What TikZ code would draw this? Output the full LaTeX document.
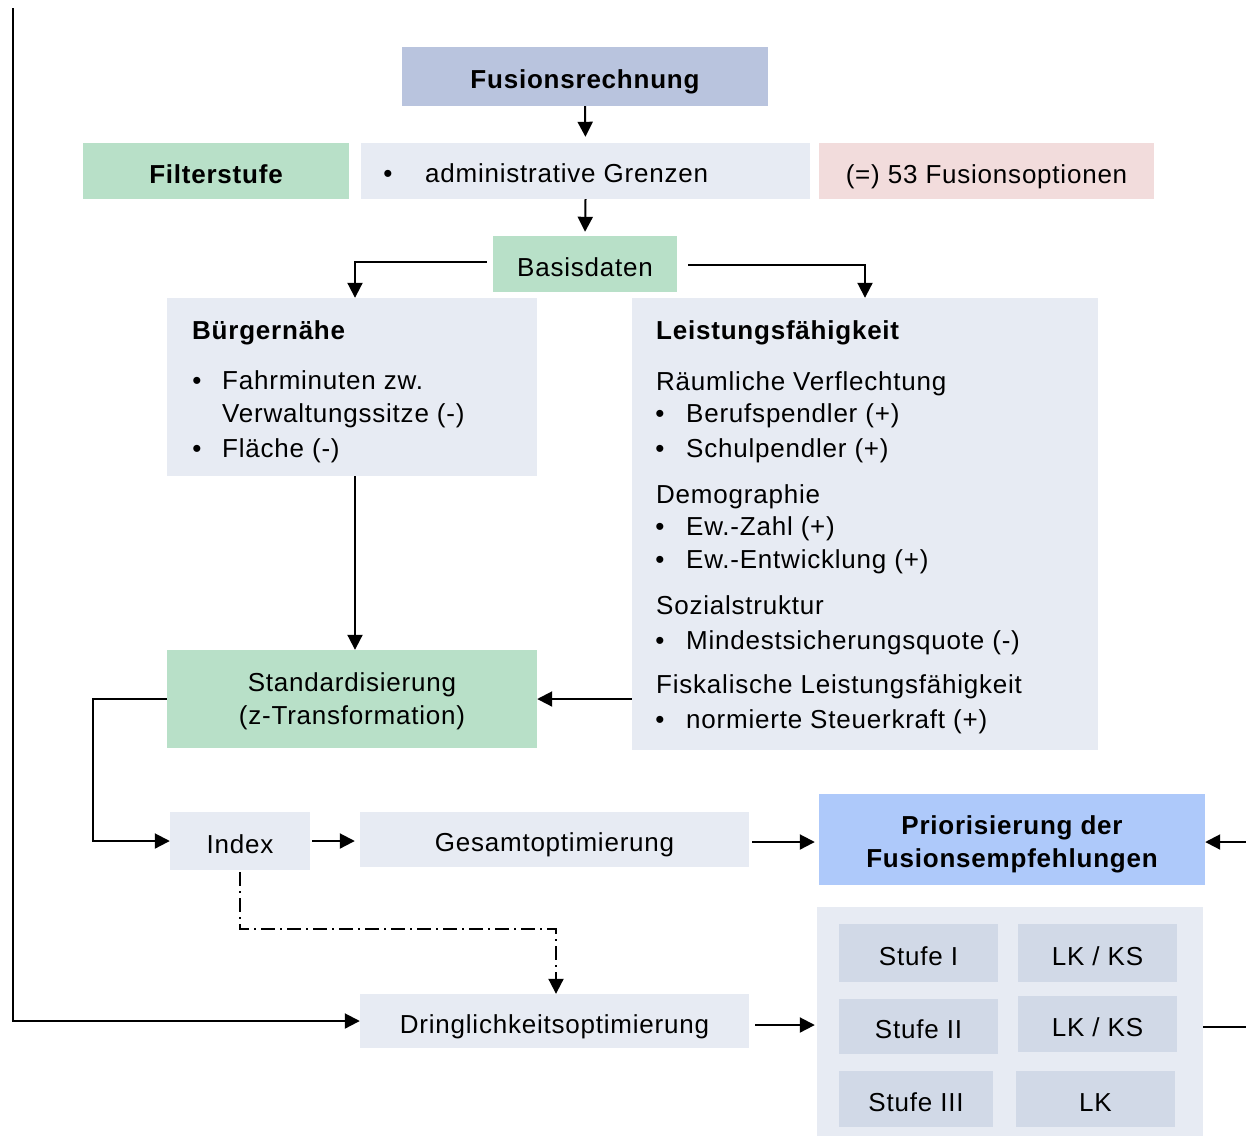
\documentclass[tikz,border=0pt]{standalone}
\usepackage{fontspec}
\setmainfont[LetterSpace=3]{Liberation Sans}
\usetikzlibrary{arrows.meta}
\definecolor{cTop}{HTML}{B9C4DE}
\definecolor{cGreen}{HTML}{B8E0C8}
\definecolor{cLight}{HTML}{E7EBF3}
\definecolor{cPink}{HTML}{F2DCDC}
\definecolor{cPrio}{HTML}{AEC9FA}
\definecolor{cInner}{HTML}{D1D9E7}
\newcommand{\twolines}[3]{\raisebox{#1}[\height][\depth]{\begin{tabular}{@{}c@{}}#2\\#3\end{tabular}}}
\begin{document}
\begin{tikzpicture}[x=1pt,y=-1pt,
  every node/.style={font=\fontsize{26}{33}\selectfont},
  box/.style={inner sep=0pt, align=center},
  onebox/.style={box, text height=24pt, text depth=0pt},
  txt/.style={inner sep=0pt, anchor=base west},
  bul/.style={inner sep=0pt, anchor=base},
  arr/.style={line width=2pt, -{Triangle[length=15pt,width=15pt]}},
  ln/.style={line width=2pt},
  dd/.style={line width=2pt, dash pattern=on 14pt off 5pt on 2pt off 5pt, -{Triangle[length=15pt,width=15pt]}}
]
\useasboundingbox (0,0) rectangle (1246,1136);

% boxes
\node[onebox, fill=cTop, minimum width=366pt, minimum height=59pt, font=\fontsize{26}{33}\selectfont\bfseries] (fus) at (585,76.5) {Fusionsrechnung};
\node[onebox, fill=cGreen, minimum width=266pt, minimum height=56pt, font=\fontsize{26}{33}\selectfont\bfseries] (filter) at (216,171) {Filterstufe};
\node[box, fill=cLight, minimum width=449pt, minimum height=56pt] (admin) at (585.5,171) {};
\node[onebox, fill=cPink, minimum width=335pt, minimum height=56pt] (opt) at (986.5,171) {(=) 53 Fusionsoptionen};
\node[onebox, fill=cGreen, minimum width=184pt, minimum height=56pt] (basis) at (585,264) {Basisdaten};
\node[box, fill=cLight, minimum width=370pt, minimum height=178pt] (buerger) at (352,387) {};
\node[box, fill=cLight, minimum width=466pt, minimum height=452pt] (leist) at (865,524) {};
\node[box, fill=cGreen, minimum width=370pt, minimum height=98pt] (std) at (352,699) {\twolines{-2pt}{Standardisierung}{(z-Transformation)}};
\node[onebox, fill=cLight, minimum width=140pt, minimum height=58pt] (index) at (240,841) {Index};
\node[onebox, fill=cLight, minimum width=389pt, minimum height=55pt] (gesamt) at (554.5,839.5) {Gesamtoptimierung};
\node[box, fill=cPrio, minimum width=386pt, minimum height=91pt, font=\fontsize{26}{33}\selectfont\bfseries] (prio) at (1012,839.5) {\twolines{-5pt}{Priorisierung der}{Fusionsempfehlungen}};
\node[onebox, fill=cLight, minimum width=389pt, minimum height=54pt] (dring) at (554.5,1021) {Dringlichkeitsoptimierung};
\node[box, fill=cLight, minimum width=386pt, minimum height=229pt] (cont) at (1010,1021.5) {};
\node[onebox, fill=cInner, minimum width=159pt, minimum height=58pt] (s1) at (918.5,953) {Stufe I};
\node[onebox, fill=cInner, minimum width=159pt, minimum height=58pt] (k1) at (1097.5,953) {LK / KS};
\node[onebox, fill=cInner, minimum width=159pt, minimum height=55pt] (s2) at (918.5,1026.5) {Stufe II};
\node[onebox, fill=cInner, minimum width=159pt, minimum height=56pt] (k2) at (1097.5,1024) {LK / KS};
\node[onebox, fill=cInner, minimum width=154pt, minimum height=56pt] (s3) at (916,1099) {Stufe III};
\node[onebox, fill=cInner, minimum width=159pt, minimum height=56pt] (k3) at (1095.5,1099) {LK};

% texts in admin box
\node[bul] (ab) at (388,182) {•};
\node[txt] (at) at (425,182) {administrative Grenzen};

% Buergernaehe texts
\node[txt, font=\fontsize{26}{33}\selectfont\bfseries] (bt) at (192,339) {Bürgernähe};
\node[bul] (bb1) at (197,389) {•};
\node[txt] (b1) at (222,389) {Fahrminuten zw.};
\node[txt] (b1b) at (222,422) {Verwaltungssitze (-)};
\node[bul] (bb2) at (197,457) {•};
\node[txt] (b2) at (222,457) {Fläche (-)};

% Leistungsfaehigkeit texts
\node[txt, font=\fontsize{26}{33}\selectfont\bfseries] (lt) at (656,339) {Leistungsfähigkeit};
\node[txt] (l1) at (656,390) {Räumliche Verflechtung};
\node[bul] (lb1) at (660,422) {•};
\node[txt] (l1a) at (686,422) {Berufspendler (+)};
\node[bul] (lb2) at (660,457) {•};
\node[txt] (l1b) at (686,457) {Schulpendler (+)};
\node[txt] (l2) at (656,503) {Demographie};
\node[bul] (lb3) at (660,535) {•};
\node[txt] (l2a) at (686,535) {Ew.-Zahl (+)};
\node[bul] (lb4) at (660,568) {•};
\node[txt] (l2b) at (686,568) {Ew.-Entwicklung (+)};
\node[txt] (l3) at (656,614) {Sozialstruktur};
\node[bul] (lb5) at (660,649) {•};
\node[txt] (l3a) at (686,649) {Mindestsicherungsquote (-)};
\node[txt] (l4) at (656,693) {Fiskalische Leistungsfähigkeit};
\node[bul] (lb6) at (660,728) {•};
\node[txt] (l4a) at (686,728) {normierte Steuerkraft (+)};

% free ends
\coordinate (topleft) at (13,8);
\coordinate (redge1) at (1246,842);
\coordinate (redge2) at (1246,1027);

% connectors
\draw[arr, shorten >=6pt] (fus.south) -- (admin.north);
\draw[arr, shorten >=4pt] (admin.south) -- (basis.north);
\draw[arr] ([xshift=-6pt,yshift=2pt]basis.west) -| ([xshift=3pt]buerger.north);
\draw[arr] ([xshift=11pt,yshift=-1pt]basis.east) -| (leist.north);
\draw[arr] ([xshift=3pt]buerger.south) -- ([xshift=3pt]std.north);
\draw[arr] (std.east -| leist.west) -- (std.east);
\draw[arr] (std.west) -- ++(-74,0) |- (index.west);
\draw[arr, shorten <=2pt, shorten >=5pt] (index.east) -- (gesamt.west |- index.east);
\draw[arr, shorten <=3pt, shorten >=4pt] (gesamt.east |- redge1) -- (prio.west |- redge1);
\draw[arr] (redge1) -- (prio.east |- redge1);
\draw[dd, shorten <=2pt] (index.south) -- ++(0,59) -| ([xshift=1.5pt]dring.north);
\draw[arr] (topleft) |- (dring.west);
\draw[arr, shorten <=6pt, shorten >=2pt] (dring.east |- 0,1025) -- (cont.west |- 0,1025);
\draw[ln] (cont.east |- redge2) -- (redge2);
\end{tikzpicture}
\end{document}
